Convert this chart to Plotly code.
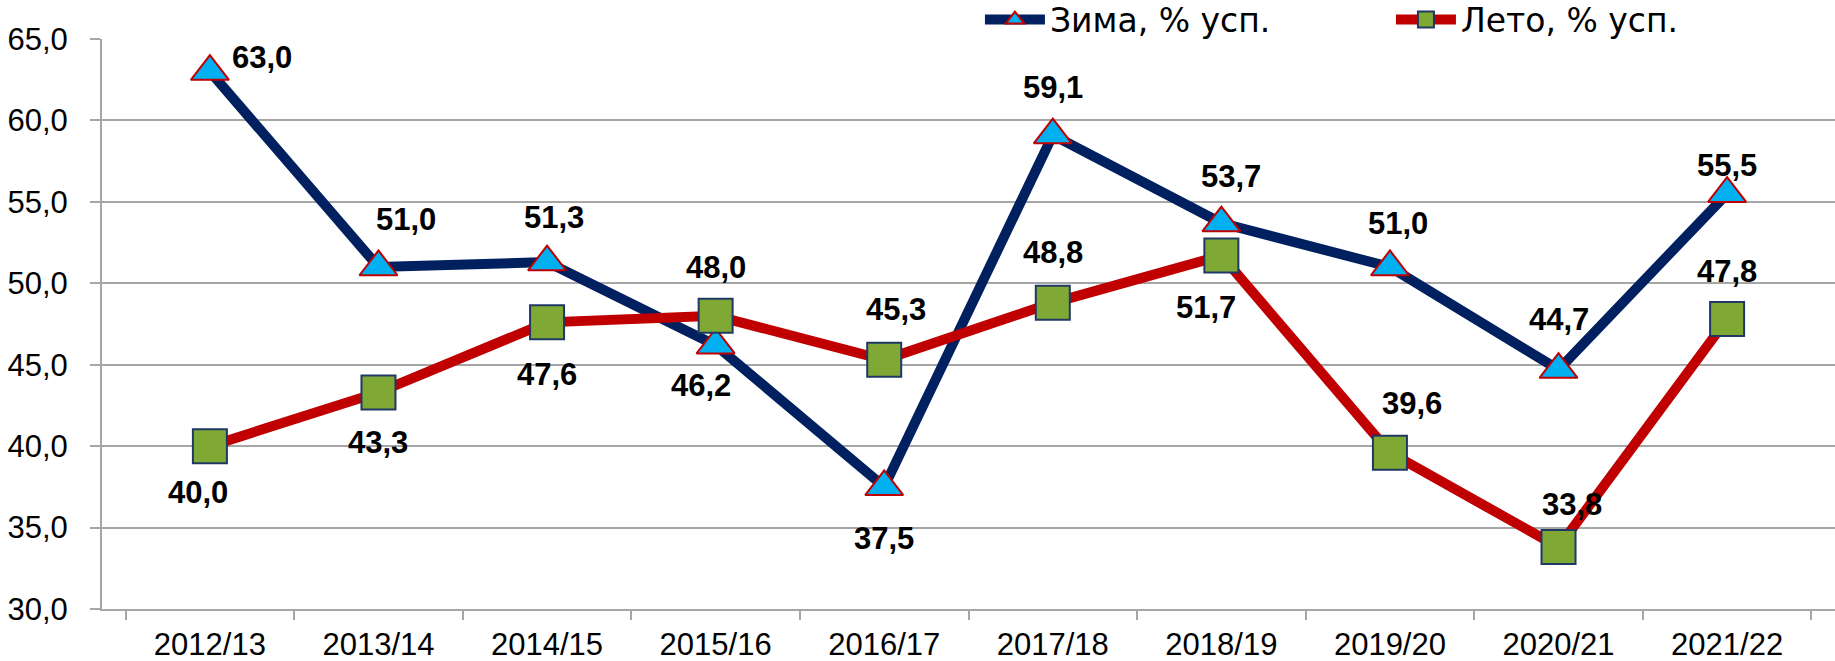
import plotly.graph_objects as go

seasons = ["2012/13", "2013/14", "2014/15", "2015/16", "2016/17",
           "2017/18", "2018/19", "2019/20", "2020/21", "2021/22"]
winter = [63.0, 51.0, 51.3, 46.2, 37.5, 59.1, 53.7, 51.0, 44.7, 55.5]
summer = [40.0, 43.3, 47.6, 48.0, 45.3, 48.8, 51.7, 39.6, 33.8, 47.8]
winter_name = "Зима, % усп."
summer_name = "Лето, % усп."

# label offsets in pixels (dx right, dy down)
winter_dx = [52, 28, 7, -15, 0, 0, 10, 8, 0, 0]
winter_dy = [-14, -48, -45, 40, 52, -48, -47, -44, -50, -28]
summer_dx = [-12, 0, 0, 0, 12, 0, -15, 22, 13, 0]
summer_dy = [46, 50, 52, -48, -50, -50, 52, -49, -43, -48]

fig = go.Figure()
fig.add_trace(go.Scatter(
    x=seasons, y=winter, name=winter_name, mode="lines+markers",
    line=dict(color="#002060", width=10),
    marker=dict(symbol="triangle-up", size=33, color="#00B0F0",
                line=dict(color="#C00000", width=2)),
))
fig.add_trace(go.Scatter(
    x=seasons, y=summer, name=summer_name, mode="lines+markers",
    line=dict(color="#C00000", width=10),
    marker=dict(symbol="square", size=34, color="#80A834",
                line=dict(color="#1F3864", width=2)),
))

def fmt(v):
    return f"{v:.1f}".replace(".", ",")

annotations = []
for vals, dxs, dys in ((winter, winter_dx, winter_dy), (summer, summer_dx, summer_dy)):
    for s, v, dx, dy in zip(seasons, vals, dxs, dys):
        annotations.append(dict(
            x=s, y=v, text=fmt(v), showarrow=False,
            xshift=dx, yshift=-dy,
            font=dict(family="Liberation Sans, Arial, sans-serif", size=31,
                      color="black", weight="bold"),
        ))

grid = "#A6A6A6"
fig.update_layout(
    width=1835, height=661,
    margin=dict(l=102, r=0, t=39, b=52, autoexpand=False),
    paper_bgcolor="white", plot_bgcolor="white",
    separators=", ",
    font=dict(family="Liberation Sans, Arial, sans-serif", size=31, color="black"),
    xaxis=dict(
        type="category", tickson="boundaries", ticks="outside", ticklen=9,
        tickcolor=grid, tickwidth=2, showline=True, linecolor=grid, linewidth=2,
        showgrid=False, tickfont=dict(size=31), automargin=False,
        ticklabelstandoff=7,
    ),
    yaxis=dict(
        range=[30, 65], dtick=5, tick0=30, tickformat=".1f",
        ticks="outside", ticklen=10, tickcolor=grid, tickwidth=2,
        showline=True, linecolor=grid, linewidth=2,
        showgrid=True, gridcolor=grid, gridwidth=2, zeroline=False,
        tickfont=dict(size=31), automargin=False, ticklabelstandoff=16,
    ),
    legend=dict(
        orientation="h", x=0.5066, xanchor="left", y=1.034, yanchor="middle",
        font=dict(family="DejaVu Sans, Verdana, sans-serif", size=33),
        bgcolor="rgba(0,0,0,0)", itemwidth=60, entrywidth=336,
    ),
    annotations=annotations,
    showlegend=True,
)

fig.write_html(
    "out.html",
    config={"displayModeBar": False},
    post_script="document.body.style.margin='0';document.body.style.overflow='hidden';",
)
